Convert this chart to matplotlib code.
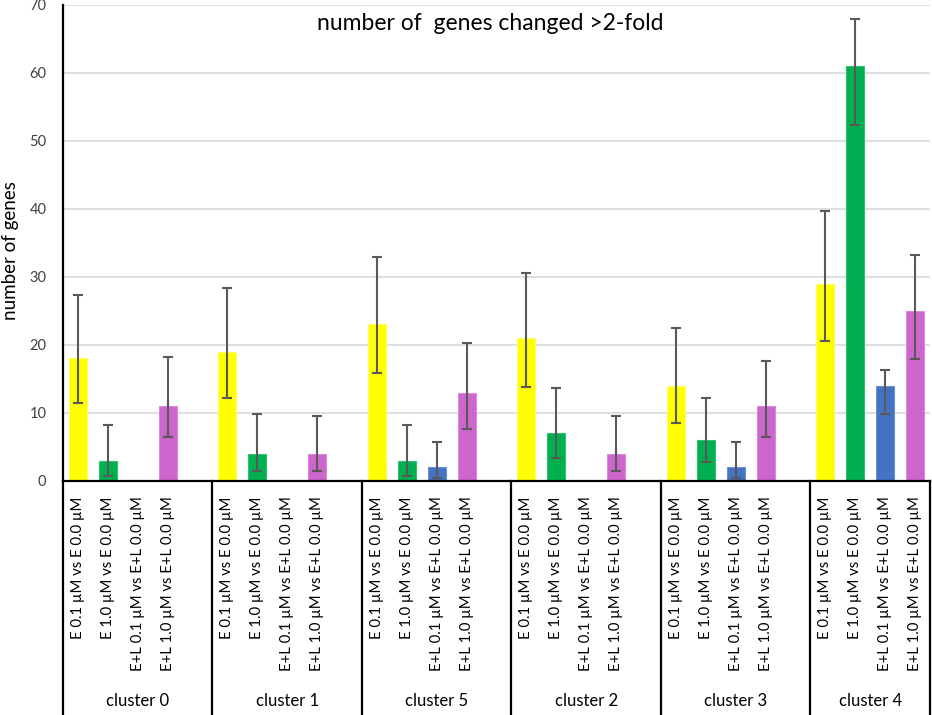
import numpy as np
import matplotlib
matplotlib.use("Agg")
from matplotlib import pyplot as plt
from matplotlib.transforms import blended_transform_factory

plt.rcParams['font.family'] = ['Lato', 'DejaVu Sans']

clusters = ["cluster 0", "cluster 1", "cluster 5", "cluster 2", "cluster 3", "cluster 4"]
comparisons = ["E 0.1 µM vs E 0.0 µM", "E 1.0 µM vs E 0.0 µM",
               "E+L 0.1 µM vs E+L 0.0 µM", "E+L 1.0 µM vs E+L 0.0 µM"]
colors = ["#FFFF00", "#00B050", "#4472C4", "#CC66CC"]
edges = ["#FFFF66", "#33C070", "#6A8FD4", "#DD88DD"]

# number of genes per comparison, one list per comparison, ordered as clusters
e01 = [18, 19, 23, 21, 14, 29]
e10 = [3, 4, 3, 7, 6, 61]
el01 = [0, 0, 2, 0, 2, 14]
el10 = [11, 4, 13, 4, 11, 25]
values = [e01, e10, el01, el10]

# error bar ends (low, high)
e01_lo = [11.5, 12.2, 15.8, 13.8, 8.5, 20.6]
e01_hi = [27.3, 28.4, 32.9, 30.5, 22.5, 39.6]
e10_lo = [0.8, 1.5, 0.7, 3.4, 2.8, 52.3]
e10_hi = [8.2, 9.8, 8.2, 13.6, 12.2, 67.8]
el01_lo = [np.nan, np.nan, 0.5, np.nan, 0.5, 9.8]
el01_hi = [np.nan, np.nan, 5.8, np.nan, 5.8, 16.3]
el10_lo = [6.4, 1.5, 7.7, 1.5, 6.4, 17.9]
el10_hi = [18.2, 9.5, 20.3, 9.5, 17.6, 33.2]
lows = [e01_lo, e10_lo, el01_lo, el10_lo]
highs = [e01_hi, e10_hi, el01_hi, el10_hi]

fig = plt.figure(figsize=(9.32, 7.15), dpi=100)
ax = fig.add_axes([63 / 932, 234 / 715, 867 / 932, 476.5 / 715])

slots = 5  # four bars plus one empty slot per cluster
tick_pos = []
tick_lab = []
for j in range(4):
    x = np.arange(len(clusters)) * slots + j
    v = np.array(values[j], dtype=float)
    lo = v - np.array(lows[j])
    hi = np.array(highs[j]) - v
    mask = v > 0
    ax.bar(x[mask], v[mask], width=0.6, color=colors[j], edgecolor=edges[j],
           linewidth=0.8, zorder=2)
    ax.errorbar(x, v, yerr=[lo, hi], fmt="none", ecolor="#595959",
                elinewidth=1.5, capsize=3.5, capthick=1.5, zorder=3)
    tick_pos += list(x)
    tick_lab += [comparisons[j]] * len(clusters)

ax.set_xlim(-0.5, len(clusters) * slots - 1.5)
ax.set_ylim(0, 70)
ax.set_yticks(range(0, 71, 10))
ax.tick_params(axis="y", length=0, labelsize=10.5, labelcolor="#404040", pad=12)
ax.grid(axis="y", color="#D9D9D9", linewidth=1.2, zorder=0)
ax.set_axisbelow(True)

ax.set_xticks(tick_pos)
ax.set_xticklabels(tick_lab, rotation=90, fontsize=10.7)
ax.tick_params(axis="x", length=0, pad=11)

for s in ["top", "right"]:
    ax.spines[s].set_visible(False)
ax.spines["left"].set_linewidth(1.6)
ax.spines["bottom"].set_linewidth(1.6)

ax.set_ylabel("number of genes", fontsize=13.5)
ax.yaxis.set_label_coords(-44 / 867, 0.483)

# group boxes below the axis
trans = blended_transform_factory(ax.transData, fig.transFigure)
bottom_ax = 234 / 715
bounds = [g * slots - 0.5 for g in range(len(clusters))] + [len(clusters) * slots - 1.5]
for b in bounds:
    ax.plot([b, b], [0, bottom_ax], color="black", linewidth=1.6,
            transform=trans, clip_on=False)
for g, name in enumerate(clusters):
    ax.text((bounds[g] + bounds[g + 1]) / 2, 14 / 715, name, transform=trans,
            ha="center", va="center", fontsize=12)

fig.text(490 / 932, 1 - 23 / 715, "number of  genes changed >2-fold",
         ha="center", va="center", fontsize=16.5)

plt.savefig("out.png", dpi=100)
